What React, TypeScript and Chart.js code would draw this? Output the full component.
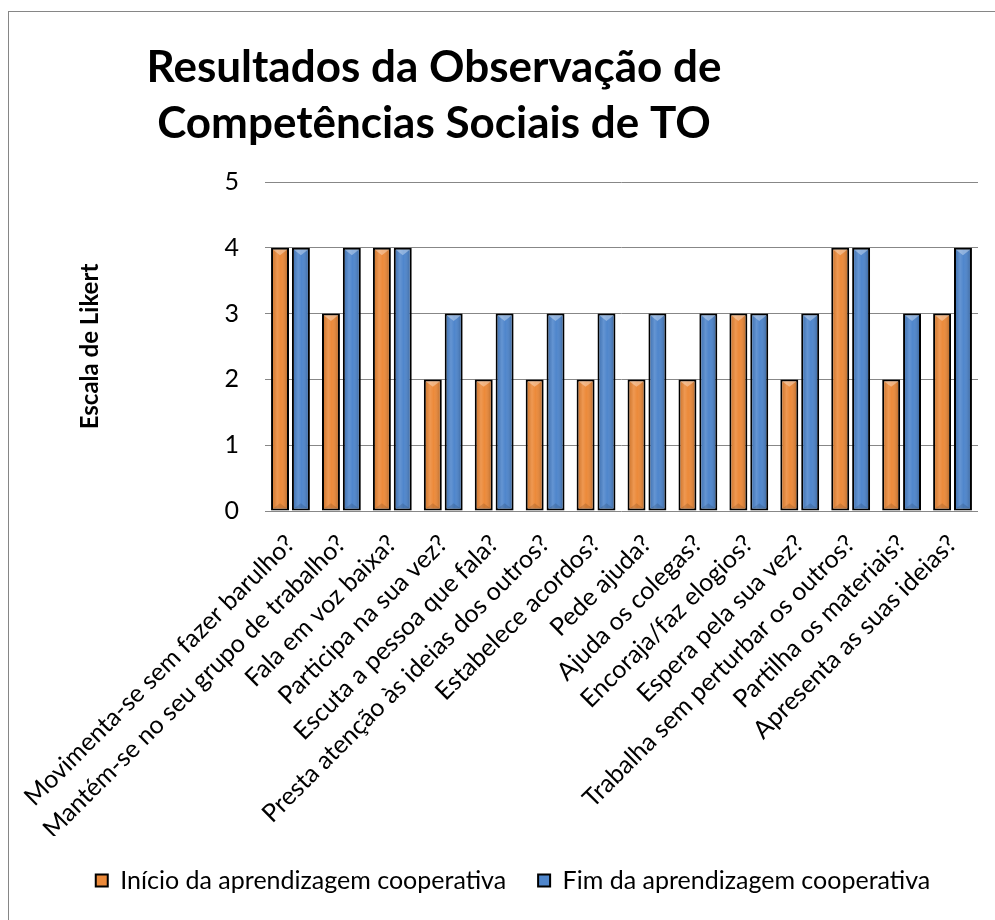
import React, { useEffect, useRef } from 'react';
import { Chart, registerables } from 'chart.js';

Chart.register(...registerables);

const categories = [
  'Movimenta-se sem fazer barulho?',
  'Mantém-se no seu grupo de trabalho?',
  'Fala em voz baixa?',
  'Participa na sua vez?',
  'Escuta a pessoa que fala?',
  'Presta atenção às ideias dos outros?',
  'Estabelece acordos?',
  'Pede ajuda?',
  'Ajuda os colegas?',
  'Encoraja/faz elogios?',
  'Espera pela sua vez?',
  'Trabalha sem perturbar os outros?',
  'Partilha os materiais?',
  'Apresenta as suas ideias?',
];
const inicio = [4, 3, 4, 2, 2, 2, 2, 2, 2, 3, 2, 4, 2, 3];
const fim = [4, 4, 4, 3, 3, 3, 3, 3, 3, 3, 3, 4, 3, 4];
const yMin = 0;
const yMax = 5;
const yStep = 1;
const titleLines = ['Resultados da Observação de', 'Competências Sociais de TO'];
const yTitle = 'Escala de Likert';
const seriesNames = ['Início da aprendizagem cooperativa', 'Fim da aprendizagem cooperativa'];

const FONT = 'Lato, "Open Sans", sans-serif';
const baseColors = ['#EC8A3A', '#4F86CC'];

const titlePlugin = {
  id: 'customTitle',
  afterDraw(chart: any) {
    const ctx = chart.ctx as CanvasRenderingContext2D;
    ctx.save();
    ctx.font = `bold 44px ${FONT}`;
    ctx.fillStyle = '#000';
    ctx.textAlign = 'center';
    ctx.textBaseline = 'alphabetic';
    ctx.fillText(titleLines[0], 425, 70);
    ctx.fillText(titleLines[1], 425, 126);
    ctx.restore();
  },
};

const bevelPlugin = {
  id: 'bevel',
  afterDatasetsDraw(chart: any) {
    const ctx = chart.ctx as CanvasRenderingContext2D;
    chart.data.datasets.forEach((_ds: any, i: number) => {
      const meta = chart.getDatasetMeta(i);
      if (meta.hidden) return;
      meta.data.forEach((bar: any) => {
        const { x, y, base, width } = bar.getProps(['x', 'y', 'base', 'width'], true);
        const bw = 2;
        const l = x - width / 2 + bw;
        const r = x + width / 2 - bw;
        const t = Math.min(y, base) + bw;
        const b = Math.max(y, base) - bw;
        if (r <= l || b <= t) return;
        ctx.save();
        const g = ctx.createLinearGradient(l, 0, r, 0);
        g.addColorStop(0, 'rgba(0,0,0,0.10)');
        g.addColorStop(0.3, 'rgba(255,255,255,0.12)');
        g.addColorStop(0.55, 'rgba(255,255,255,0.0)');
        g.addColorStop(1, 'rgba(0,0,0,0.18)');
        ctx.fillStyle = g;
        ctx.fillRect(l, t, r - l, b - t);
        const d = Math.min((r - l) / 2.6, (b - t) / 2);
        ctx.beginPath();
        ctx.moveTo(l, t);
        ctx.lineTo(r, t);
        ctx.lineTo((l + r) / 2, t + d);
        ctx.closePath();
        ctx.fillStyle = 'rgba(255,255,255,0.35)';
        ctx.fill();
        ctx.beginPath();
        ctx.moveTo(l, b);
        ctx.lineTo(r, b);
        ctx.lineTo((l + r) / 2, b - d);
        ctx.closePath();
        ctx.fillStyle = 'rgba(0,0,0,0.12)';
        ctx.fill();
        ctx.restore();
      });
    });
  },
};

export default function App() {
  const ref = useRef<HTMLCanvasElement | null>(null);

  useEffect(() => {
    if (!ref.current) return;
    const common = {
      borderColor: '#000',
      borderWidth: 2,
      borderSkipped: false,
      categoryPercentage: 0.82,
      barPercentage: 0.86,
    };
    const chart = new Chart(ref.current, {
      type: 'bar',
      data: {
        labels: categories,
        datasets: [
          { label: seriesNames[0], data: inicio, backgroundColor: baseColors[0], ...common },
          { label: seriesNames[1], data: fim, backgroundColor: baseColors[1], ...common },
        ],
      },
      options: {
        responsive: false,
        animation: false,
        devicePixelRatio: 1,
        layout: { padding: { top: 170, left: 39, right: 39, bottom: 0 } },
        plugins: {
          title: { display: false },
          tooltip: { enabled: false },
          legend: {
            position: 'bottom',
            labels: {
              boxWidth: 12,
              boxHeight: 12,
              padding: 32,
              color: '#000',
              font: { family: FONT, size: 25 },
            },
          },
        },
        scales: {
          x: {
            grid: { display: false, drawTicks: false },
            border: { display: false },
            ticks: {
              autoSkip: false,
              maxRotation: 45,
              minRotation: 45,
              padding: 18,
              color: '#000',
              font: { family: FONT, size: 25 },
            },
            afterFit: (scale: any) => {
              scale.height = 325;
              scale.paddingLeft = 0;
              scale.paddingRight = 0;
            },
          },
          y: {
            min: yMin,
            max: yMax,
            grid: { color: '#878787', lineWidth: 1, drawTicks: false },
            border: { display: false },
            ticks: {
              stepSize: yStep,
              padding: 26,
              color: '#000',
              font: { family: FONT, size: 25 },
            },
            title: {
              display: true,
              text: yTitle,
              color: '#000',
              font: { family: FONT, size: 24, weight: 'bold' },
              padding: { top: 28, bottom: 0 },
            },
            afterFit: (scale: any) => {
              scale.width = 217;
              scale.paddingTop = 0;
              scale.paddingBottom = 0;
            },
          },
        },
      },
      plugins: [titlePlugin, bevelPlugin],
    } as any);
    return () => chart.destroy();
  }, []);

  return (
    <div style={{ position: 'fixed', inset: 0, overflow: 'hidden', background: '#fff' }}>
      <div
        style={{
          position: 'absolute',
          left: 8,
          top: 11,
          width: 1010,
          height: 940,
          border: '1px solid #868686',
          boxSizing: 'border-box',
        }}
      >
        <canvas ref={ref} width={1008} height={891} style={{ display: 'block' }} />
      </div>
    </div>
  );
}
